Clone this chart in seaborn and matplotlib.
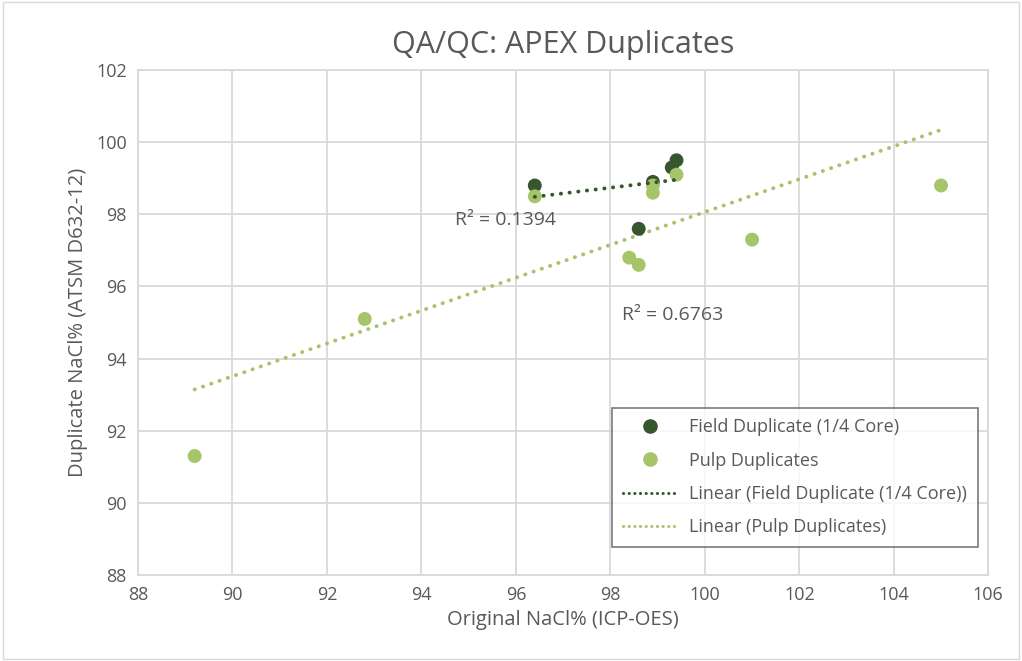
import matplotlib
matplotlib.use("Agg")
import matplotlib.pyplot as plt
import seaborn as sns
import pandas as pd
from matplotlib.lines import Line2D
from matplotlib.patches import Rectangle

# Data
field_x = [96.4, 98.9, 99.3, 99.4, 98.6]
field_y = [98.8, 98.9, 99.3, 99.5, 97.6]
pulp_x = [96.4, 98.9, 98.9, 99.4, 98.4, 98.6, 92.8, 89.2, 101.0, 105.0]
pulp_y = [98.5, 98.8, 98.6, 99.1, 96.8, 96.6, 95.1, 91.3, 97.3, 98.8]
series_names = ["Field Duplicate (1/4 Core)", "Pulp Duplicates"]
r2_labels = ["R\u00b2 = 0.1394", "R\u00b2 = 0.6763"]
x_ticks = [88, 90, 92, 94, 96, 98, 100, 102, 104, 106]
y_ticks = [88, 90, 92, 94, 96, 98, 100, 102]

dark = "#38562E"
light = "#A6C46A"
txt = "#595959"
grid = "#D9D9D9"

sns.set_theme(style="white")
plt.rcParams["font.family"] = ["Open Sans", "DejaVu Sans"]

fig = plt.figure(figsize=(10.22, 6.61), dpi=100)
ax = fig.add_axes([0.135, 0.130, 0.832, 0.764])

df_field = pd.DataFrame({"x": field_x, "y": field_y})
df_pulp = pd.DataFrame({"x": pulp_x, "y": pulp_y})

dot = (0, (0.05, 2.2))
sns.regplot(data=df_pulp, x="x", y="y", scatter=False, ci=None, ax=ax, truncate=True,
            line_kws=dict(color=light, linestyle=dot, linewidth=2.8,
                          dash_capstyle="round", zorder=2))
sns.regplot(data=df_field, x="x", y="y", scatter=False, ci=None, ax=ax, truncate=True,
            line_kws=dict(color=dark, linestyle=dot, linewidth=2.8,
                          dash_capstyle="round", zorder=4))
sns.scatterplot(data=df_field, x="x", y="y", color=dark, s=100, edgecolor="none", ax=ax, zorder=3)
sns.scatterplot(data=df_pulp, x="x", y="y", color=light, s=100, edgecolor="none", ax=ax, zorder=3.5)

ax.set_xlim(88, 106)
ax.set_ylim(88, 102)
ax.set_xticks(x_ticks)
ax.set_yticks(y_ticks)
ax.grid(True, color=grid, linewidth=1.3)
ax.set_axisbelow(True)
for s in ax.spines.values():
    s.set_color(grid)
    s.set_linewidth(1.3)
ax.tick_params(axis="both", length=0, labelsize=13, labelcolor=txt, pad=8)
ax.set_xlabel("Original NaCl% (ICP-OES)", fontsize=14.5, color=txt, labelpad=4)
ax.set_ylabel("Duplicate NaCl% (ATSM D632-12)", fontsize=14.5, color=txt, labelpad=6)
ax.set_title("QA/QC: APEX Duplicates", fontsize=22, color=txt, pad=12)

ax.text(94.72, 97.84, r2_labels[0], fontsize=14, color=txt, va="center", ha="left")
ax.text(98.25, 95.2, r2_labels[1], fontsize=14, color=txt, va="center", ha="left")

handles = [
    Line2D([], [], marker="o", linestyle="none", color=dark, markersize=9.5),
    Line2D([], [], marker="o", linestyle="none", color=light, markersize=9.5),
    Line2D([], [], color=dark, linestyle=(0, (0.05, 1.8)), linewidth=2.2, dash_capstyle="round"),
    Line2D([], [], color=light, linestyle=(0, (0.05, 1.8)), linewidth=2.2, dash_capstyle="round"),
]
labels = [series_names[0], series_names[1],
          "Linear (" + series_names[0] + ")", "Linear (" + series_names[1] + ")"]
leg = ax.legend(handles, labels, loc="lower right", bbox_to_anchor=(0.988, 0.055),
                borderaxespad=0, frameon=True, fancybox=False, fontsize=13, labelcolor=txt,
                edgecolor="#595959", labelspacing=0.85, handlelength=3.0,
                borderpad=0.6, handletextpad=0.7)
leg.get_frame().set_linewidth(1.2)

fig.patches.append(Rectangle((0.003, 0.003), 0.994, 0.994, transform=fig.transFigure,
                             fill=False, edgecolor=grid, linewidth=1))

fig.savefig("out.png", dpi=100)
